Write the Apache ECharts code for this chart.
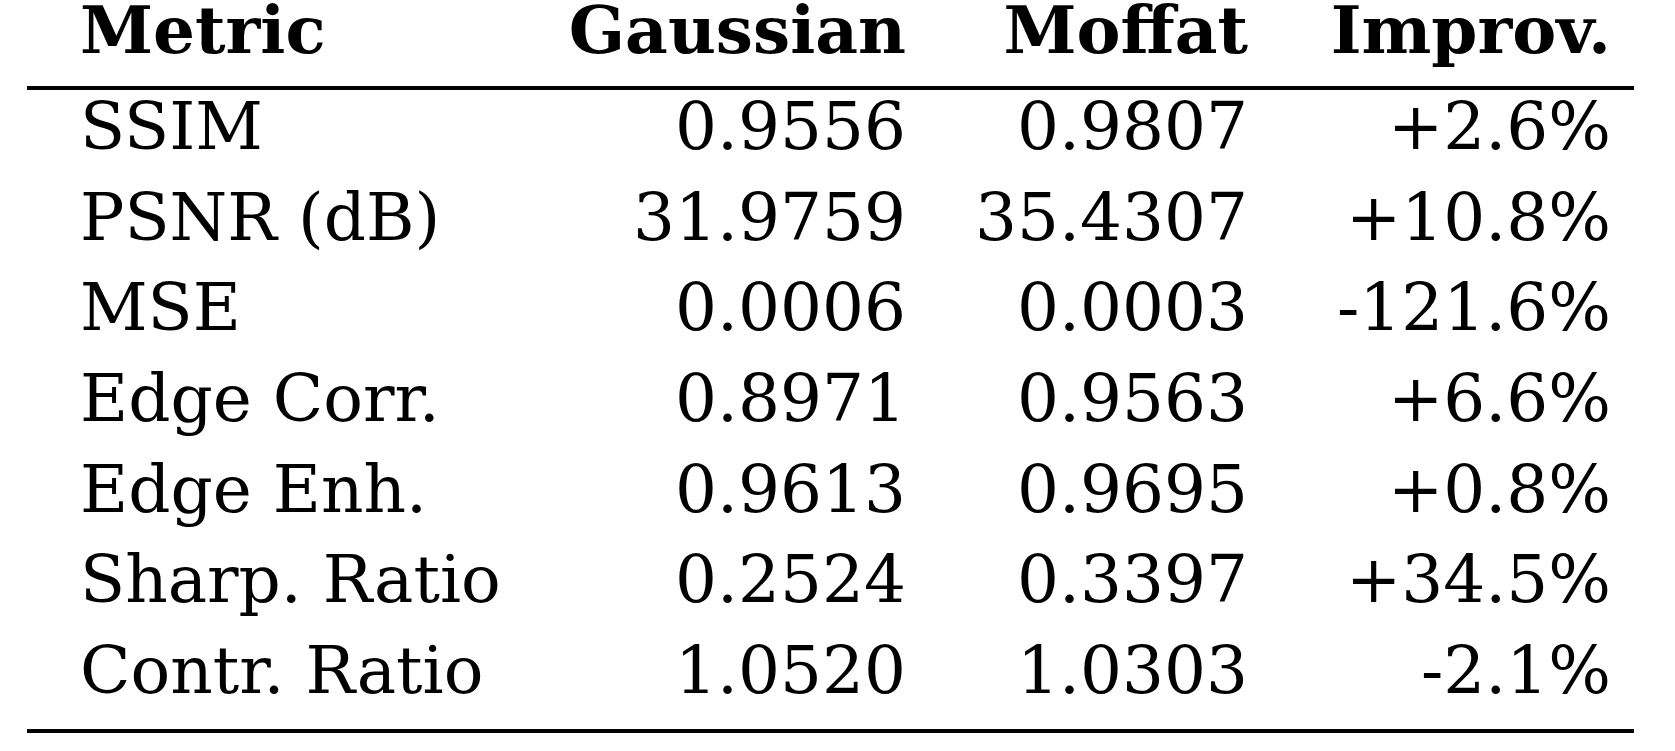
<!DOCTYPE html>
<html><head><meta charset="utf-8">
<script src="https://cdn.jsdelivr.net/npm/echarts@6/dist/echarts.min.js"></script>
<style>html,body{margin:0;background:#fff}#c{width:1675px;height:751px}</style>
</head><body><div id="c"></div>
<script>
const headers = ["Metric", "Gaussian", "Moffat", "Improv."];
const metrics = ["SSIM", "PSNR (dB)", "MSE", "Edge Corr.", "Edge Enh.", "Sharp. Ratio", "Contr. Ratio"];
const gaussian = ["0.9556", "31.9759", "0.0006", "0.8971", "0.9613", "0.2524", "1.0520"];
const moffat = ["0.9807", "35.4307", "0.0003", "0.9563", "0.9695", "0.3397", "1.0303"];
const improv = ["+2.6%", "+10.8%", "-121.6%", "+6.6%", "+0.8%", "+34.5%", "-2.1%"];

const font = "'DejaVu Serif', 'Liberation Serif', serif";
const colX = [80, 906, 1248, 1611];
const colAlign = ["left", "right", "right", "right"];
const headY = 36, rowY0 = 132, rowStep = 90.6;

const els = [];
headers.forEach((h, i) => els.push({
  type: "text", x: colX[i], y: headY,
  style: { text: h, font: "bold 66px " + font, fill: "#000", align: colAlign[i], verticalAlign: "middle" }
}));
metrics.forEach((m, r) => {
  [m, gaussian[r], moffat[r], improv[r]].forEach((v, i) => els.push({
    type: "text", x: colX[i], y: rowY0 + r * rowStep,
    style: { text: v, font: "66px " + font, fill: "#000", align: colAlign[i], verticalAlign: "middle" }
  }));
});
els.push({ type: "rect", shape: { x: 27, y: 86, width: 1607, height: 4 }, style: { fill: "#000" } });
els.push({ type: "rect", shape: { x: 27, y: 729, width: 1607, height: 4 }, style: { fill: "#000" } });

const chart = echarts.init(document.getElementById("c"));
chart.setOption({ animation: false, graphic: { elements: els } });
</script></body></html>
